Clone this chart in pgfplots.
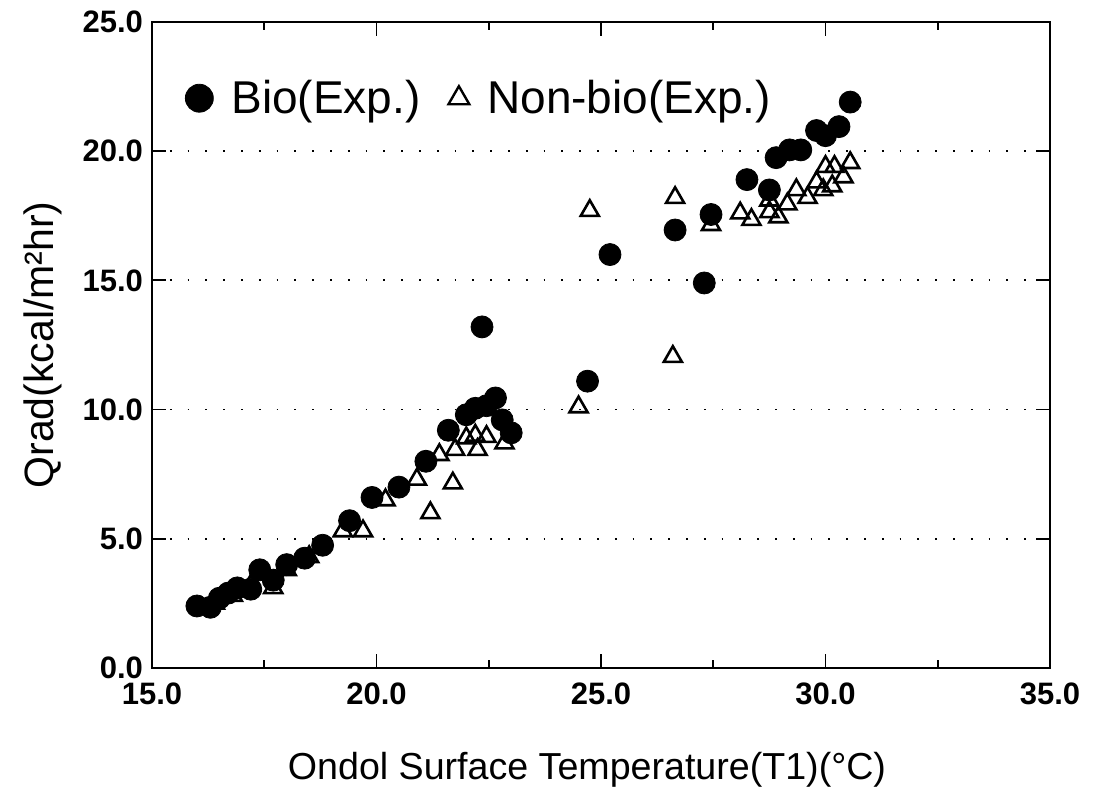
\documentclass[border=0pt]{standalone}
\usepackage{fontspec}
\setmainfont{Liberation Sans}
\usepackage{pgfplots}
\pgfplotsset{compat=1.18}
\begin{document}
\begin{tikzpicture}
\begin{axis}[
  width=449pt, height=323pt, scale only axis,
  xmin=15, xmax=35, ymin=0, ymax=25,
  xtick={15,20,25,30,35}, ytick={0,5,10,15,20,25},
  minor x tick num=1,
  tick align=inside,
  major tick length=7pt, minor tick length=4pt,
  axis line style={line width=1.3pt},
  every tick/.style={black, line width=0.9pt},
  ymajorgrids,
  major grid style={black, line width=0.9pt, dash pattern=on 0.9pt off 8pt},
  /pgf/number format/assume math mode=true,
  /pgf/number format/fixed, /pgf/number format/fixed zerofill, /pgf/number format/precision=1,
  ticklabel style={font=\fontsize{15.5}{17}\selectfont\bfseries},
  xticklabel style={yshift=-4pt},
  yticklabel style={xshift=-1pt},
  xlabel={Ondol Surface Temperature(T1)(°C)},
  ylabel={Qrad(kcal/m²hr)},
  xlabel style={at={(axis description cs:0.5,-0.158)}, anchor=center, xshift=-7pt, font=\fontsize{18.8}{22}\selectfont},
  ylabel style={at={(axis description cs:-0.122,0.5)}, anchor=center, font=\fontsize{20.5}{24}\selectfont},
  legend style={draw=none, fill=none, at={(axis description cs:0.03,0.882)}, anchor=west,
    font=\fontsize{23}{27}\selectfont, legend columns=2,
    /tikz/every odd column/.append style={column sep=7pt},
    /tikz/every even column/.append style={column sep=12pt}},
  legend cell align=left,
]
\addplot[forget plot, only marks, mark=triangle, mark size=5.2pt, mark options={draw=black, fill=white, line width=1.3pt}] coordinates {
(16.4,2.5) (16.8,2.8) (17.2,3.2) (17.7,3.1) (18.0,3.8) (18.5,4.3)
(19.25,5.3) (19.7,5.3) (20.2,6.5) (20.9,7.3) (21.2,6.0) (21.4,8.25)
(21.7,7.15) (21.75,8.45) (22.0,8.9) (22.2,9.0) (22.25,8.45) (22.45,8.95)
(22.85,8.7) (24.5,10.1) (24.75,17.7) (26.6,12.05) (26.65,18.2) (27.45,17.15)
(28.1,17.6) (28.35,17.35) (28.75,17.65) (28.75,18.1) (28.95,17.45) (29.15,17.95)
(29.35,18.5) (29.6,18.2) (29.8,18.8) (29.95,18.5) (30.15,18.65) (30.0,19.4)
(30.2,19.4) (30.4,19.0) (30.55,19.55)
};
\addplot[forget plot, only marks, mark=*, mark size=5.5pt, mark options={draw=black, fill=black}] coordinates {
(16.0,2.4) (16.3,2.35) (16.5,2.7) (16.7,2.9) (16.9,3.1) (17.2,3.05)
(17.4,3.8) (17.7,3.4) (18.0,4.0) (18.4,4.25) (18.8,4.75) (19.4,5.7)
(19.9,6.6) (20.5,7.0) (21.1,8.0) (21.6,9.2) (22.0,9.8) (22.2,10.05)
(22.45,10.15) (22.65,10.45) (22.8,9.6) (23.0,9.1) (22.35,13.2) (24.7,11.1)
(25.2,16.0) (26.65,16.95) (27.3,14.9) (27.45,17.55) (28.25,18.9) (28.75,18.5)
(28.9,19.75) (29.2,20.05) (29.45,20.05) (29.8,20.8) (30.0,20.6) (30.3,20.95)
(30.55,21.9)
};
\addlegendimage{only marks, mark=*, mark size=7pt, draw=black, fill=black}
\addlegendentry{Bio(Exp.)}
\addlegendimage{only marks, mark=triangle, mark size=6pt, mark options={draw=black, fill=white, line width=1.2pt}}
\addlegendentry{Non-bio(Exp.)}
\end{axis}
\pgfresetboundingbox
\path (current axis.south west) ++(-76pt,-60.5pt) coordinate (bbA);
\path (current axis.north east) ++(27.5pt,11pt) coordinate (bbB);
\useasboundingbox (bbA) rectangle (bbB);
\end{tikzpicture}
\end{document}
